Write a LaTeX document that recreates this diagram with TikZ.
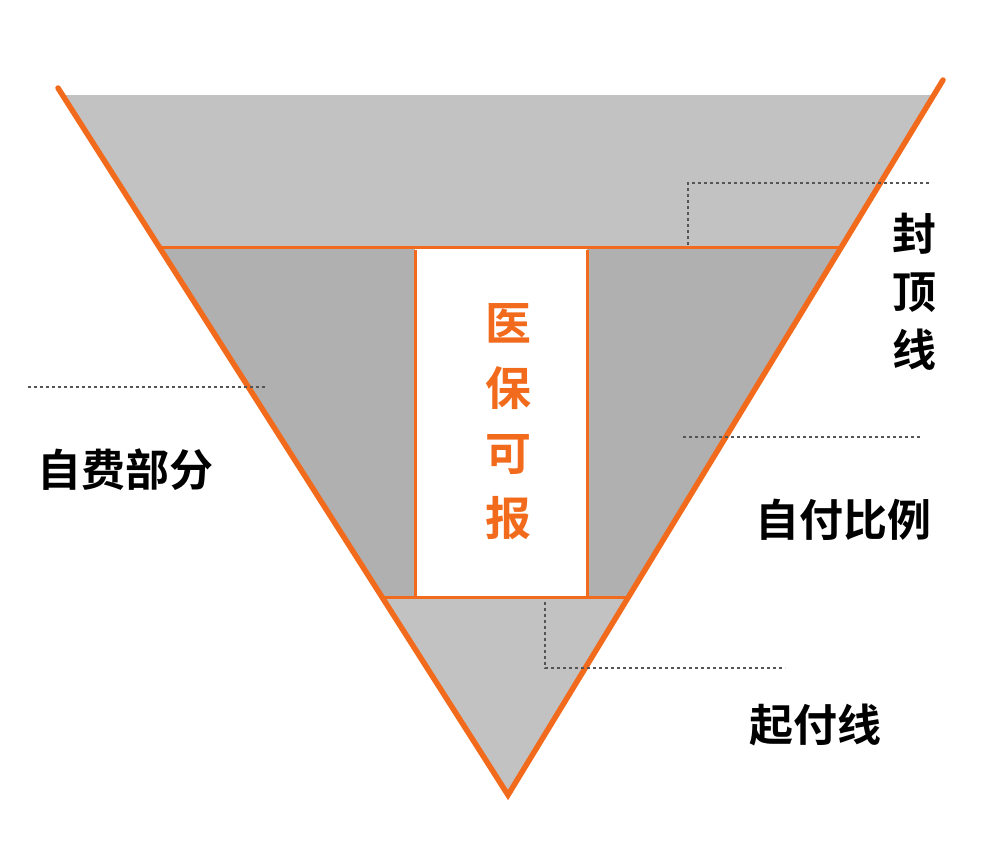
\documentclass[tikz,border=0pt]{standalone}
\usepackage{fontspec}
\newfontfamily\cjk{Noto Sans CJK SC}[BoldFont={Noto Sans CJK SC Bold}]
\definecolor{org}{HTML}{F26B1D}
\definecolor{g1}{HTML}{C2C2C2}
\definecolor{g2}{HTML}{B0B0B0}
\definecolor{guidecol}{HTML}{555555}
\begin{document}
\begin{tikzpicture}[x=1pt,y=-1pt,
  edge/.style={org,line width=5.5pt,line cap=round},
  bar/.style={org,line width=3pt},
  guide/.style={guidecol,dashed,line width=1.3pt},
  lbl/.style={font=\cjk\bfseries\fontsize{44}{52}\selectfont,text=black,align=center,inner sep=0pt},
  olbl/.style={font=\cjk\bfseries\fontsize{46}{65}\selectfont,text=org,align=center,inner sep=0pt}]
\useasboundingbox (0,0) rectangle (984,867);
\coordinate (TL) at (58,88); \coordinate (TR) at (943,80); \coordinate (B) at (508,795);
\coordinate (a1) at (159,247); \coordinate (a2) at (841,247);
\coordinate (b1) at (382,597); \coordinate (b2) at (629,597);
\fill[g1] (62,95) -- (934,95) -- (a2) -- (a1) -- cycle;
\fill[g2] (a1) -- (415,247) -- (415,597) -- (b1) -- cycle;
\fill[white] (415,247) rectangle (587,597);
\fill[g2] (587,247) -- (a2) -- (b2) -- (587,597) -- cycle;
\fill[g1] (b1) -- (b2) -- (B) -- cycle;
\draw[bar] (a1) -- (a2);
\draw[bar] (b1) -- (b2);
\draw[bar] (415,250) -- (415,597);
\draw[bar] (587,250) -- (587,597);
\draw[edge] (TL) -- (B) -- (TR);
\coordinate (d1) at (688,245); \coordinate (d1b) at (930,183);
\draw[guide] (d1) |- (d1b);
\coordinate (d2) at (28,387); \coordinate (d2b) at (265,387);
\draw[guide] (d2) -- (d2b);
\coordinate (d3) at (683,437); \coordinate (d3b) at (922,437);
\draw[guide] (d3) -- (d3b);
\coordinate (d4) at (545,602); \coordinate (d4b) at (785,668);
\draw[guide] (d4) |- (d4b);
\node[lbl] (cap) at (914,292) {封\\[6pt]顶\\[6pt]线};
\node[lbl] (self) at (125,470) {自费部分};
\node[lbl] (ratio) at (843,520) {自付比例};
\node[lbl] (start) at (815,725) {起付线};
\node[olbl] (ins) at (508,422) {医\\保\\可\\报};
\end{tikzpicture}
\end{document}
